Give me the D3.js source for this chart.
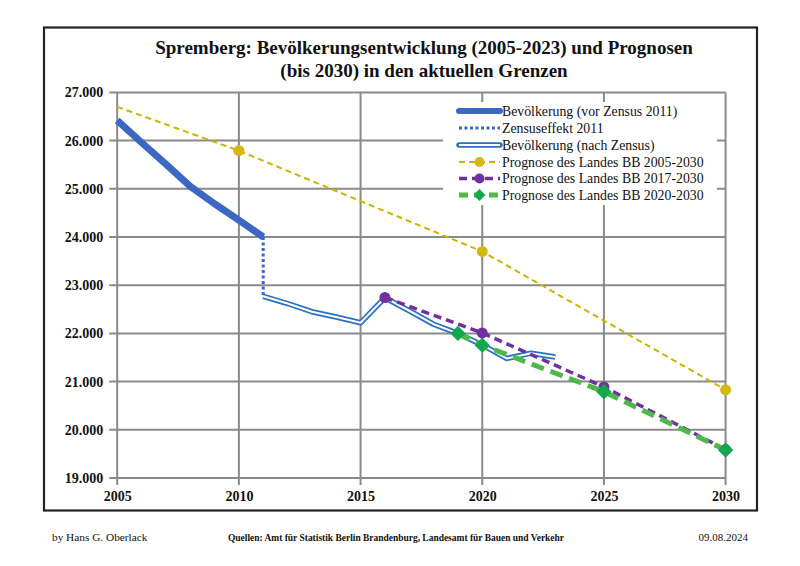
<!DOCTYPE html>
<html><head><meta charset="utf-8">
<script src="https://cdn.jsdelivr.net/npm/d3@7/dist/d3.min.js"></script>
<style>
html,body{margin:0;padding:0;background:#fff;}
svg{display:block;}
text{font-family:"Liberation Serif","DejaVu Serif",serif;fill:#111;}
</style></head>
<body>
<svg id="chart" width="800" height="566"></svg>
<script>
// ---- data ----
const xTicks = [2005, 2010, 2015, 2020, 2025, 2030];
const yTicks = [19000, 20000, 21000, 22000, 23000, 24000, 25000, 26000, 27000];

const vorYears = [2005, 2006, 2007, 2008, 2009, 2010, 2011];
const vorValues = [26420, 25960, 25510, 25050, 24690, 24350, 24000];

const zensusYears = [2011, 2011];
const zensusValues = [24000, 22770];

const nachYears = [2011, 2012, 2013, 2014, 2015, 2016, 2017, 2018, 2019, 2020, 2021, 2022, 2023];
const nachValues = [22770, 22620, 22450, 22340, 22220, 22740, 22470, 22190, 22000, 21760, 21480, 21590, 21510];

const prog05Years = [2005, 2010, 2020, 2030];
const prog05Values = [26700, 25790, 23700, 20830];
const prog05Markers = [false, true, true, true];

const prog17Years = [2016, 2020, 2025, 2030];
const prog17Values = [22745, 22010, 20890, 19590];

const prog20Years = [2019, 2020, 2025, 2030];
const prog20Values = [22000, 21756, 20790, 19580];

const legendLabels = [
  "Bevölkerung (vor Zensus 2011)",
  "Zensuseffekt 2011",
  "Bevölkerung (nach Zensus)",
  "Prognose des Landes BB 2005-2030",
  "Prognose des Landes BB 2017-2030",
  "Prognose des Landes BB 2020-2030"
];

const titleLines = [
  "Spremberg:  Bevölkerungsentwicklung (2005-2023) und Prognosen",
  "(bis 2030) in den aktuellen Grenzen"
];
const footerLeft = "by Hans G. Oberlack";
const footerMid = "Quellen: Amt für Statistik Berlin Brandenburg, Landesamt für Bauen und Verkehr";
const footerRight = "09.08.2024";

// ---- colours ----
const C = {
  vor: "#3c67c3", nach: "#2a72c0", yellow: "#cbb400", yellowDot: "#d6b80c",
  purple: "#7030a0", green: "#4fb84a", greenDot: "#12a84e", grid: "#8a8a8a"
};

const svg = d3.select("#chart");
const x = d3.scaleLinear().domain([2005, 2030]).range([117.2, 725.6]);
const y = d3.scaleLinear().domain([19000, 27000]).range([478, 92.4]);
const de = d3.formatLocale({decimal: ",", thousands: ".", grouping: [3], currency: ["", " €"]});
const fmt = de.format(",");

// outer frame
svg.append("rect").attr("x", 44).attr("y", 27.5).attr("width", 713).attr("height", 483)
  .attr("fill", "#fff").attr("stroke", "#222").attr("stroke-width", 2.2);

// title
svg.selectAll("text.title").data(titleLines).enter().append("text")
  .attr("class", "title").attr("x", 424).attr("y", (d, i) => 54 + i * 22.5)
  .attr("text-anchor", "middle").attr("font-size", 19).attr("font-weight", "bold")
  .text(d => d);

// gridlines
const g = svg.append("g");
g.selectAll("line.h").data(yTicks).enter().append("line")
  .attr("x1", x(2005) - 8).attr("x2", x(2030))
  .attr("y1", d => y(d)).attr("y2", d => y(d))
  .attr("stroke", C.grid).attr("stroke-width", 2);
g.selectAll("line.v").data(xTicks).enter().append("line")
  .attr("x1", d => x(d)).attr("x2", d => x(d))
  .attr("y1", y(27000)).attr("y2", y(19000) + 7)
  .attr("stroke", C.grid).attr("stroke-width", 2);

// axes labels
const yAxis = d3.axisLeft(y).tickValues(yTicks).tickFormat(fmt).tickSize(0).tickPadding(14);
const ya = svg.append("g").attr("transform", `translate(${x(2005)},0)`).call(yAxis);
ya.select(".domain").remove();
ya.selectAll("text").attr("font-size", 14).attr("font-weight", "bold")
  .attr("font-family", "Liberation Serif, serif").attr("fill", "#111");

const xAxis = d3.axisBottom(x).tickValues(xTicks).tickFormat(d3.format("d")).tickSize(0).tickPadding(13);
const xa = svg.append("g").attr("transform", `translate(0,${y(19000)})`).call(xAxis);
xa.select(".domain").remove();
xa.selectAll("text").attr("font-size", 14).attr("font-weight", "bold")
  .attr("font-family", "Liberation Serif, serif").attr("fill", "#111");

// legend box (white, covering grid)
const lg = svg.append("g");
lg.append("rect").attr("x", 443).attr("y", 102).attr("width", 274).attr("height", 103).attr("fill", "#fff");

const line = d3.line().x(d => x(d[0])).y(d => y(d[1]));
const zip = (a, b) => a.map((v, i) => [v, b[i]]);
const plot = svg.append("g");

// series in legend order
plot.append("path").datum(zip(vorYears, vorValues)).attr("d", line)
  .attr("fill", "none").attr("stroke", C.vor).attr("stroke-width", 7).attr("stroke-linejoin", "round");
plot.append("path").datum(zip(zensusYears, zensusValues)).attr("d", line)
  .attr("fill", "none").attr("stroke", C.vor).attr("stroke-width", 3).attr("stroke-dasharray", "3,2.5");
plot.append("path").datum(zip(nachYears, nachValues)).attr("d", line)
  .attr("fill", "none").attr("stroke", C.nach).attr("stroke-width", 5.5).attr("stroke-linejoin", "round");
plot.append("path").datum(zip(nachYears, nachValues)).attr("d", line)
  .attr("fill", "none").attr("stroke", "#fff").attr("stroke-width", 2).attr("stroke-linejoin", "round");

plot.append("path").datum(zip(prog05Years, prog05Values)).attr("d", line)
  .attr("fill", "none").attr("stroke", C.yellow).attr("stroke-width", 2).attr("stroke-dasharray", "6,4");
plot.selectAll("circle.y").data(zip(prog05Years, prog05Values).filter((d, i) => prog05Markers[i]))
  .enter().append("circle").attr("cx", d => x(d[0])).attr("cy", d => y(d[1])).attr("r", 5.5).attr("fill", C.yellowDot);

plot.append("path").datum(zip(prog17Years, prog17Values)).attr("d", line)
  .attr("fill", "none").attr("stroke", C.purple).attr("stroke-width", 3.5).attr("stroke-dasharray", "8,5");
plot.selectAll("circle.p").data(zip(prog17Years, prog17Values))
  .enter().append("circle").attr("cx", d => x(d[0])).attr("cy", d => y(d[1])).attr("r", 5.5).attr("fill", C.purple);

plot.append("path").datum(zip(prog20Years, prog20Values)).attr("d", line)
  .attr("fill", "none").attr("stroke", C.green).attr("stroke-width", 5).attr("stroke-dasharray", "13,7");
const diamond = d3.symbol().type(d3.symbolDiamond2).size(150);
plot.selectAll("path.gd").data(zip(prog20Years, prog20Values))
  .enter().append("path").attr("d", diamond)
  .attr("transform", d => `translate(${x(d[0])},${y(d[1])})`).attr("fill", C.greenDot);

// legend entries
const rows = [111, 128, 145, 162, 178.5, 195];
const lx1 = 459, lx2 = 500;
legendLabels.forEach((t, i) => {
  const ry = rows[i];
  if (i === 0) {
    lg.append("line").attr("x1", lx1).attr("x2", lx2).attr("y1", ry).attr("y2", ry)
      .attr("stroke", C.vor).attr("stroke-width", 6).attr("stroke-linecap", "round");
  } else if (i === 1) {
    lg.append("line").attr("x1", lx1).attr("x2", lx2).attr("y1", ry).attr("y2", ry)
      .attr("stroke", C.vor).attr("stroke-width", 3).attr("stroke-dasharray", "3,2.5");
  } else if (i === 2) {
    lg.append("line").attr("x1", lx1).attr("x2", lx2).attr("y1", ry).attr("y2", ry)
      .attr("stroke", C.nach).attr("stroke-width", 5.5).attr("stroke-linecap", "round");
    lg.append("line").attr("x1", lx1).attr("x2", lx2).attr("y1", ry).attr("y2", ry)
      .attr("stroke", "#fff").attr("stroke-width", 2);
  } else if (i === 3) {
    lg.append("line").attr("x1", lx1).attr("x2", lx2).attr("y1", ry).attr("y2", ry)
      .attr("stroke", C.yellow).attr("stroke-width", 2).attr("stroke-dasharray", "6,4");
    lg.append("circle").attr("cx", (lx1 + lx2) / 2).attr("cy", ry).attr("r", 5).attr("fill", C.yellowDot);
  } else if (i === 4) {
    lg.append("line").attr("x1", lx1).attr("x2", lx2).attr("y1", ry).attr("y2", ry)
      .attr("stroke", C.purple).attr("stroke-width", 3.5).attr("stroke-dasharray", "8,5");
    lg.append("circle").attr("cx", (lx1 + lx2) / 2).attr("cy", ry).attr("r", 5).attr("fill", C.purple);
  } else {
    lg.append("line").attr("x1", lx1).attr("x2", lx2).attr("y1", ry).attr("y2", ry)
      .attr("stroke", C.green).attr("stroke-width", 5).attr("stroke-dasharray", "9,6");
    lg.append("path").attr("d", d3.symbol().type(d3.symbolDiamond2).size(90))
      .attr("transform", `translate(${(lx1 + lx2) / 2},${ry})`).attr("fill", C.greenDot);
  }
  lg.append("text").attr("x", lx2 + 2).attr("y", ry + 4.5).attr("font-size", 13.8).text(t);
});

// footer
svg.append("text").attr("x", 52).attr("y", 541).attr("font-size", 11.3).text(footerLeft);
svg.append("text").attr("x", 396).attr("y", 541).attr("text-anchor", "middle").attr("font-size", 10)
  .attr("font-weight", "bold").attr("textLength", 336).attr("lengthAdjust", "spacingAndGlyphs").text(footerMid);
svg.append("text").attr("x", 748).attr("y", 541).attr("text-anchor", "end").attr("font-size", 11).text(footerRight);
</script>
</body></html>
